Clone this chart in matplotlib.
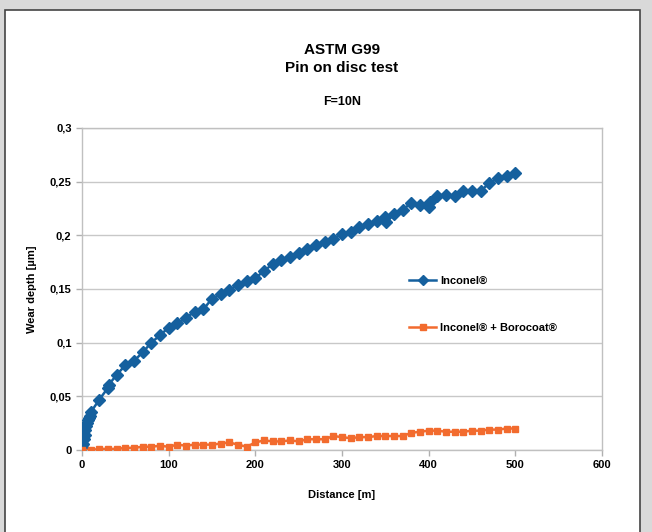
import matplotlib.pyplot as plt
from matplotlib.patches import Rectangle

plt.rcParams['font.family'] = ['Liberation Sans', 'DejaVu Sans']
plt.rcParams['font.weight'] = 'bold'

# Inconel data (distance [m], wear depth [um])
inconel_x = [0, 1, 2, 3, 4, 5, 6, 7, 8, 9, 10,
             20, 30, 31, 40, 50, 60, 70, 80, 90, 100,
             110, 120, 130, 140, 150, 160, 170, 180, 190, 200,
             210, 220, 230, 240, 250, 260, 270, 280, 290, 300,
             310, 320, 330, 340, 350, 351, 360, 370, 380, 390,
             400, 401, 410, 420, 430, 440, 450, 460, 470, 480,
             490, 500]
inconel_y = [0.003, 0.006, 0.010, 0.014, 0.019, 0.022, 0.025, 0.028, 0.030, 0.032, 0.035,
             0.047, 0.058, 0.061, 0.070, 0.079, 0.083, 0.091, 0.100, 0.107, 0.114,
             0.118, 0.123, 0.129, 0.131, 0.141, 0.145, 0.149, 0.154, 0.157, 0.160,
             0.167, 0.173, 0.177, 0.180, 0.184, 0.187, 0.191, 0.194, 0.197, 0.201,
             0.203, 0.208, 0.211, 0.213, 0.217, 0.212, 0.220, 0.224, 0.230, 0.228,
             0.226, 0.231, 0.237, 0.238, 0.237, 0.241, 0.241, 0.241, 0.249, 0.253,
             0.255, 0.258]

# Inconel + Borocoat data
boro_x = list(range(0, 501, 10))
boro_y = [0.000, 0.000, 0.001, 0.001, 0.001, 0.002, 0.002, 0.003, 0.003, 0.004,
          0.003, 0.005, 0.004, 0.005, 0.005, 0.005, 0.006, 0.007, 0.005, 0.003,
          0.007, 0.009, 0.008, 0.008, 0.009, 0.008, 0.010, 0.010, 0.010, 0.013,
          0.012, 0.011, 0.012, 0.012, 0.013, 0.013, 0.013, 0.013, 0.016, 0.017,
          0.018, 0.018, 0.017, 0.017, 0.017, 0.018, 0.018, 0.019, 0.019, 0.020,
          0.020]

fig = plt.figure(figsize=(6.52, 5.32), dpi=100, facecolor='#d9d9d9')
fig.patches.append(Rectangle((5 / 652, -0.01), 635 / 652, 1.01 - 10 / 532,
                             transform=fig.transFigure, facecolor='white',
                             edgecolor='#444444', linewidth=1.2, zorder=-10))

ax = fig.add_axes([82 / 652, 1 - 450 / 532, 520 / 652, 322 / 532])
ax.patch.set_alpha(0)
ax.plot(inconel_x, inconel_y, color='#15609e', marker='D', markersize=6,
        linewidth=1.8, label='Inconel®', zorder=3)
ax.plot(boro_x, boro_y, color='#f26b2e', marker='s', markersize=5,
        linewidth=1.8, label='Inconel® + Borocoat®', zorder=3)

ax.set_xlim(0, 600)
ax.set_ylim(0, 0.3)
ax.set_xticks([0, 100, 200, 300, 400, 500, 600])
ax.set_yticks([0, 0.05, 0.1, 0.15, 0.2, 0.25, 0.3])
ax.set_yticklabels(['0', '0,05', '0,1', '0,15', '0,2', '0,25', '0,3'])
ax.tick_params(labelsize=8, color='#b0b0b0', length=4, width=1)
for lab in ax.get_xticklabels() + ax.get_yticklabels():
    lab.set_fontweight('bold')
ax.grid(axis='y', color='#c8c8c8', linewidth=1)
for s in ax.spines.values():
    s.set_color('#c0c0c0')
    s.set_linewidth(1)
ax.set_axisbelow(True)

ax.set_xlabel('Distance [m]', fontsize=8, fontweight='bold', labelpad=14)
ax.set_ylabel('Wear depth [µm]', fontsize=8, fontweight='bold', labelpad=9)

fig.text(342 / 652, 1 - 50 / 532, 'ASTM G99', ha='center', va='center',
         fontsize=11, fontweight='bold')
fig.text(342 / 652, 1 - 68 / 532, 'Pin on disc test', ha='center', va='center',
         fontsize=11, fontweight='bold')
fig.text(342 / 652, 1 - 102 / 532, 'F=10N', ha='center', va='center',
         fontsize=9, fontweight='bold')

ax.legend(loc='upper left', bbox_to_anchor=(0.609, 0.572), frameon=False,
          labelspacing=3.33, handlelength=2.5, handletextpad=0.3,
          markerscale=0.8, prop={'weight': 'bold', 'size': 8})

fig.savefig('out.png', dpi=100, facecolor=fig.get_facecolor())
